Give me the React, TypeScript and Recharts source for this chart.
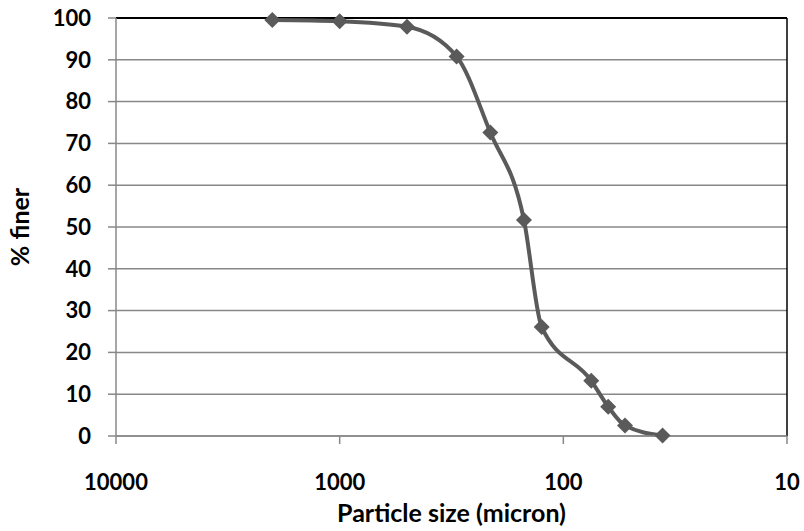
import React from 'react';
import {
    LineChart,
    Line,
    XAxis,
    YAxis,
    CartesianGrid,
    ReferenceLine,
    Label,
} from 'recharts';

// Particle size distribution (sieve sizes in micron, % passing)
const sizes = [2000, 1000, 500, 300, 212, 150, 125, 75, 63, 53, 36];
const finer = [99.5, 99.2, 97.9, 90.8, 72.6, 51.7, 26.1, 13.2, 7.0, 2.5, 0.1];

const xTicks = [10000, 1000, 100, 10];
const yTicks = [0, 10, 20, 30, 40, 50, 60, 70, 80, 90, 100];

const data = sizes.map((size, i) => ({ size, finer: finer[i] }));

const FONT = 'Lato, "Open Sans", sans-serif';
const LINE = '#5a5a5a';
const AXIS = '#888888';

// Diamond marker like the spreadsheet default
const Diamond = (props: any) => {
    const { cx, cy } = props;
    if (cx == null || cy == null) return null;
    const r = 8;
    return (
        <polygon
            points={`${cx},${cy - r} ${cx + r},${cy} ${cx},${cy + r} ${cx - r},${cy}`}
            fill={LINE}
            stroke="none"
        />
    );
};

const YTitle = (props: any) => {
    const vb = props.viewBox || { x: 0, y: 0, width: 0, height: 0 };
    const cx = vb.x + 19;
    const cy = vb.y + vb.height / 2;
    return (
        <text
            transform={`translate(${cx},${cy}) rotate(-90)`}
            textAnchor="middle"
            dominantBaseline="central"
            fontFamily={FONT}
            fontWeight="bold"
            fontSize={25}
            fill="#000"
        >
            % finer
        </text>
    );
};

export default function App() {
    return (
        <div style={{ position: 'absolute', left: 0, top: 0, background: '#fff' }}>
            <LineChart
                width={804}
                height={531}
                data={data}
                margin={{ top: 18, right: 17, left: 0, bottom: 0 }}
            >
                <CartesianGrid vertical={false} stroke={AXIS} strokeWidth={1.5} />

                <XAxis
                    dataKey="size"
                    type="number"
                    scale="log"
                    domain={[10, 10000]}
                    reversed
                    ticks={xTicks}
                    allowDataOverflow
                    height={95}
                    tickSize={8}
                    tickMargin={30}
                    axisLine={{ stroke: AXIS, strokeWidth: 1.5 }}
                    tickLine={{ stroke: AXIS, strokeWidth: 1.5 }}
                    tick={{ fill: '#000', fontSize: 22, fontWeight: 'bold', fontFamily: FONT }}
                >
                    <Label
                        value="Particle size (micron)"
                        position="insideBottom"
                        offset={9}
                        style={{ fill: '#000', fontSize: 25, fontWeight: 'bold', fontFamily: FONT }}
                    />
                </XAxis>

                <YAxis
                    type="number"
                    domain={[0, 100]}
                    ticks={yTicks}
                    width={116}
                    tickSize={8}
                    tickMargin={17}
                    axisLine={{ stroke: AXIS, strokeWidth: 1.5 }}
                    tickLine={{ stroke: AXIS, strokeWidth: 1.5 }}
                    tick={{ fill: '#000', fontSize: 22, fontWeight: 'bold', fontFamily: FONT }}
                    label={{ content: YTitle }}
                />

                <ReferenceLine y={100} stroke="#000" strokeWidth={2} />
                <ReferenceLine x={10} stroke="#000" strokeWidth={1.5} />

                <Line
                    type="monotone"
                    dataKey="finer"
                    stroke={LINE}
                    strokeWidth={4}
                    dot={<Diamond />}
                    activeDot={false}
                    isAnimationActive={false}
                />
            </LineChart>
        </div>
    );
}
